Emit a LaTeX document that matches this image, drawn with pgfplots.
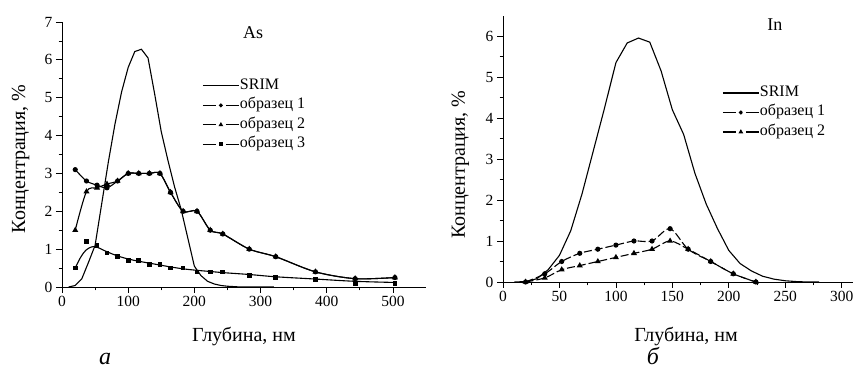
\documentclass[border=0pt]{standalone}
\usepackage{pgfplots}
\pgfplotsset{compat=1.18}
\usepackage{fontspec}
\setmainfont{Liberation Serif}

\pgfplotsset{
  myaxis/.style={
    scale only axis,
    axis lines=left,
    axis line style={-, line width=0.8pt},
    tick align=outside,
    major tick length=6pt,
    minor tick length=3.5pt,
    tick style={line width=0.8pt, black},
    minor tick num=1,
    /pgf/number format/assume math mode=true,
    ticklabel style={font=\fontsize{15.5}{18}\selectfont},
    label style={font=\fontsize{20}{24}\selectfont},
    every axis plot/.append style={line width=1.1pt, black},
    legend style={draw=none, fill=none, font=\fontsize{16}{19}\selectfont,
      inner sep=0pt, row sep=3.5pt,
      nodes={inner sep=0.5pt, text height=11pt, text depth=4pt}},
    legend cell align=left,
    clip=false,
  },
}

\begin{document}
\begin{tikzpicture}
\path[use as bounding box] (0,0) rectangle (855pt,372pt);

% ---------------- As ----------------
\begin{axis}[myaxis,
  at={(62pt,85pt)}, anchor=south west,
  width=364pt, height=265pt,
  xmin=0, xmax=550, ymin=0, ymax=7,
  xtick={0,100,200,300,400,500}, ytick={0,1,2,3,4,5,6,7},
  xlabel={Глубина, нм}, ylabel={Концентрация, \%},
  xlabel style={at={(axis description cs:0.5,-0.2075)}, anchor=base},
  ylabel style={at={(axis description cs:-0.1016,0.483)}, anchor=base},
  legend style={at={(0.385,0.79)}, anchor=north west},
]
\addplot[sharp plot, legend image code/.code={\draw[line width=1.1pt] (0pt,0pt) -- (36pt,0pt);}] coordinates {
(10,0) (20,0.04) (30,0.22) (40,0.65) (50,1.1) (60,2.2) (70,3.3) (80,4.3)
(90,5.15) (100,5.8) (110,6.22) (120,6.28) (130,6.05) (140,5.1) (150,4.1)
(160,3.35) (170,2.65) (180,2.05) (190,1.3) (200,0.55) (210,0.3) (220,0.15)
(230,0.08) (240,0.04) (250,0.02) (260,0.01) (270,0) (320,0)};
\addlegendentry{SRIM}

\addplot[smooth, tension=0.5, mark=*, mark size=2pt, mark options={solid},
  legend image code/.code={\draw[line width=1.1pt, dash pattern=on 13pt off 10pt on 13pt] (0pt,0pt) -- (36pt,0pt);
    \fill (18pt,0pt) circle (1.4pt);}] coordinates {
(20,3.1) (37,2.8) (53,2.69) (68,2.62) (84,2.8) (100,3.0) (116,3.0) (132,3.0)
(148,3.0) (164,2.5) (183,2.0) (204,2.0) (224,1.5) (243,1.4) (283,1.0)
(323,0.8) (383,0.4) (443,0.22) (503,0.25)};
\addlegendentry{образец 1}

\addplot[smooth, tension=0.5, mark=triangle*, mark size=2.4pt, mark options={solid},
  legend image code/.code={\draw[line width=1.1pt, dash pattern=on 13pt off 10pt on 13pt] (0pt,0pt) -- (36pt,0pt);
    \draw plot[only marks, mark=triangle*, mark size=1.7pt] coordinates {(18pt,0pt)};}] coordinates {
(20,1.5) (37,2.52) (53,2.62) (68,2.72) (84,2.8) (100,3.0) (116,3.0) (132,3.0)
(148,3.0) (164,2.5) (183,2.0) (204,2.0) (224,1.5) (243,1.4) (283,1.0)
(323,0.8) (383,0.4) (443,0.22) (503,0.25)};
\addlegendentry{образец 2}

\addplot[only marks, mark=square*, mark size=1.8pt,
  legend image code/.code={\draw[line width=1.1pt, dash pattern=on 13pt off 10pt on 13pt] (0pt,0pt) -- (36pt,0pt);
    \fill (16.6pt,-1.4pt) rectangle (19.4pt,1.4pt);}] coordinates {
(20,0.5) (37,1.2) (53,1.1) (68,0.9) (84,0.8) (100,0.7) (116,0.7) (132,0.6)
(148,0.6) (164,0.5) (183,0.5) (204,0.4) (224,0.4) (243,0.4) (283,0.3)
(323,0.25) (383,0.2) (443,0.1) (503,0.1)};
\addlegendentry{образец 3}

\addplot[smooth, tension=0.6, forget plot] coordinates {
(20,0.5) (28,0.78) (36,0.97) (45,1.06) (53,1.05) (68,0.93) (84,0.82) (100,0.74)
(116,0.68) (132,0.63) (148,0.58) (164,0.53) (183,0.48) (204,0.44) (224,0.41)
(243,0.38) (283,0.33) (323,0.27) (383,0.21) (443,0.15) (503,0.12)};

\node[font=\fontsize{18}{21}\selectfont] at (axis description cs:0.525,0.958) {As};
\end{axis}

% ---------------- In ----------------
\begin{axis}[myaxis,
  at={(503pt,90pt)}, anchor=south west,
  width=350pt, height=266.5pt,
  xmin=0, xmax=310, ymin=0, ymax=6.5,
  xtick={0,50,100,150,200,250,300}, ytick={0,1,2,3,4,5,6},
  xlabel={Глубина, нм}, ylabel={Концентрация, \%},
  xlabel style={at={(axis description cs:0.523,-0.225)}, anchor=base},
  ylabel style={at={(axis description cs:-0.1086,0.44)}, anchor=base},
  legend style={at={(0.626,0.74)}, anchor=north west},
]
\addplot[sharp plot, legend image code/.code={\draw[line width=1.1pt] (0pt,0pt) -- (36pt,0pt);}] coordinates {
(10,0) (20,0.01) (30,0.08) (40,0.3) (50,0.65) (60,1.25) (70,2.15) (80,3.2)
(90,4.25) (100,5.35) (110,5.83) (120,5.95) (130,5.85) (140,5.15) (150,4.2)
(160,3.6) (170,2.65) (180,1.9) (190,1.3) (200,0.77) (210,0.45) (220,0.27)
(230,0.14) (240,0.07) (250,0.03) (260,0.01) (270,0) (280,0)};
\addlegendentry{SRIM}

\addplot[smooth, tension=0.5, dash pattern=on 8pt off 3pt, mark=*, mark size=2pt, mark options={solid},
  legend image code/.code={\draw[line width=1.1pt, dash pattern=on 13pt off 10pt on 13pt] (0pt,0pt) -- (36pt,0pt);
    \fill (18pt,0pt) circle (1.4pt);}] coordinates {
(20,0) (37,0.2) (52,0.5) (68,0.7) (84,0.8) (100,0.9) (116,1.0) (132,1.0)
(148,1.3) (164,0.8) (184,0.5) (204,0.2) (224,0)};
\addlegendentry{образец 1}

\addplot[smooth, tension=0.5, dash pattern=on 8pt off 3pt, mark=triangle*, mark size=2.4pt, mark options={solid},
  legend image code/.code={\draw[line width=1.1pt, dash pattern=on 13pt off 10pt on 13pt] (0pt,0pt) -- (36pt,0pt);
    \draw plot[only marks, mark=triangle*, mark size=1.7pt] coordinates {(18pt,0pt)};}] coordinates {
(20,0) (37,0.1) (52,0.3) (68,0.4) (84,0.5) (100,0.6) (116,0.7) (132,0.8)
(148,1.0) (164,0.8) (184,0.5) (204,0.2) (224,0)};
\addlegendentry{образец 2}

\node[font=\fontsize{18}{21}\selectfont] at (axis description cs:0.777,0.964) {In};
\end{axis}

\node[font=\fontsize{24}{28}\selectfont\itshape, anchor=base, inner sep=0pt] at (105pt,7pt) {а};
\node[font=\fontsize{24}{28}\selectfont\itshape, anchor=base, inner sep=0pt] at (653pt,7pt) {б};
\end{tikzpicture}
\end{document}
